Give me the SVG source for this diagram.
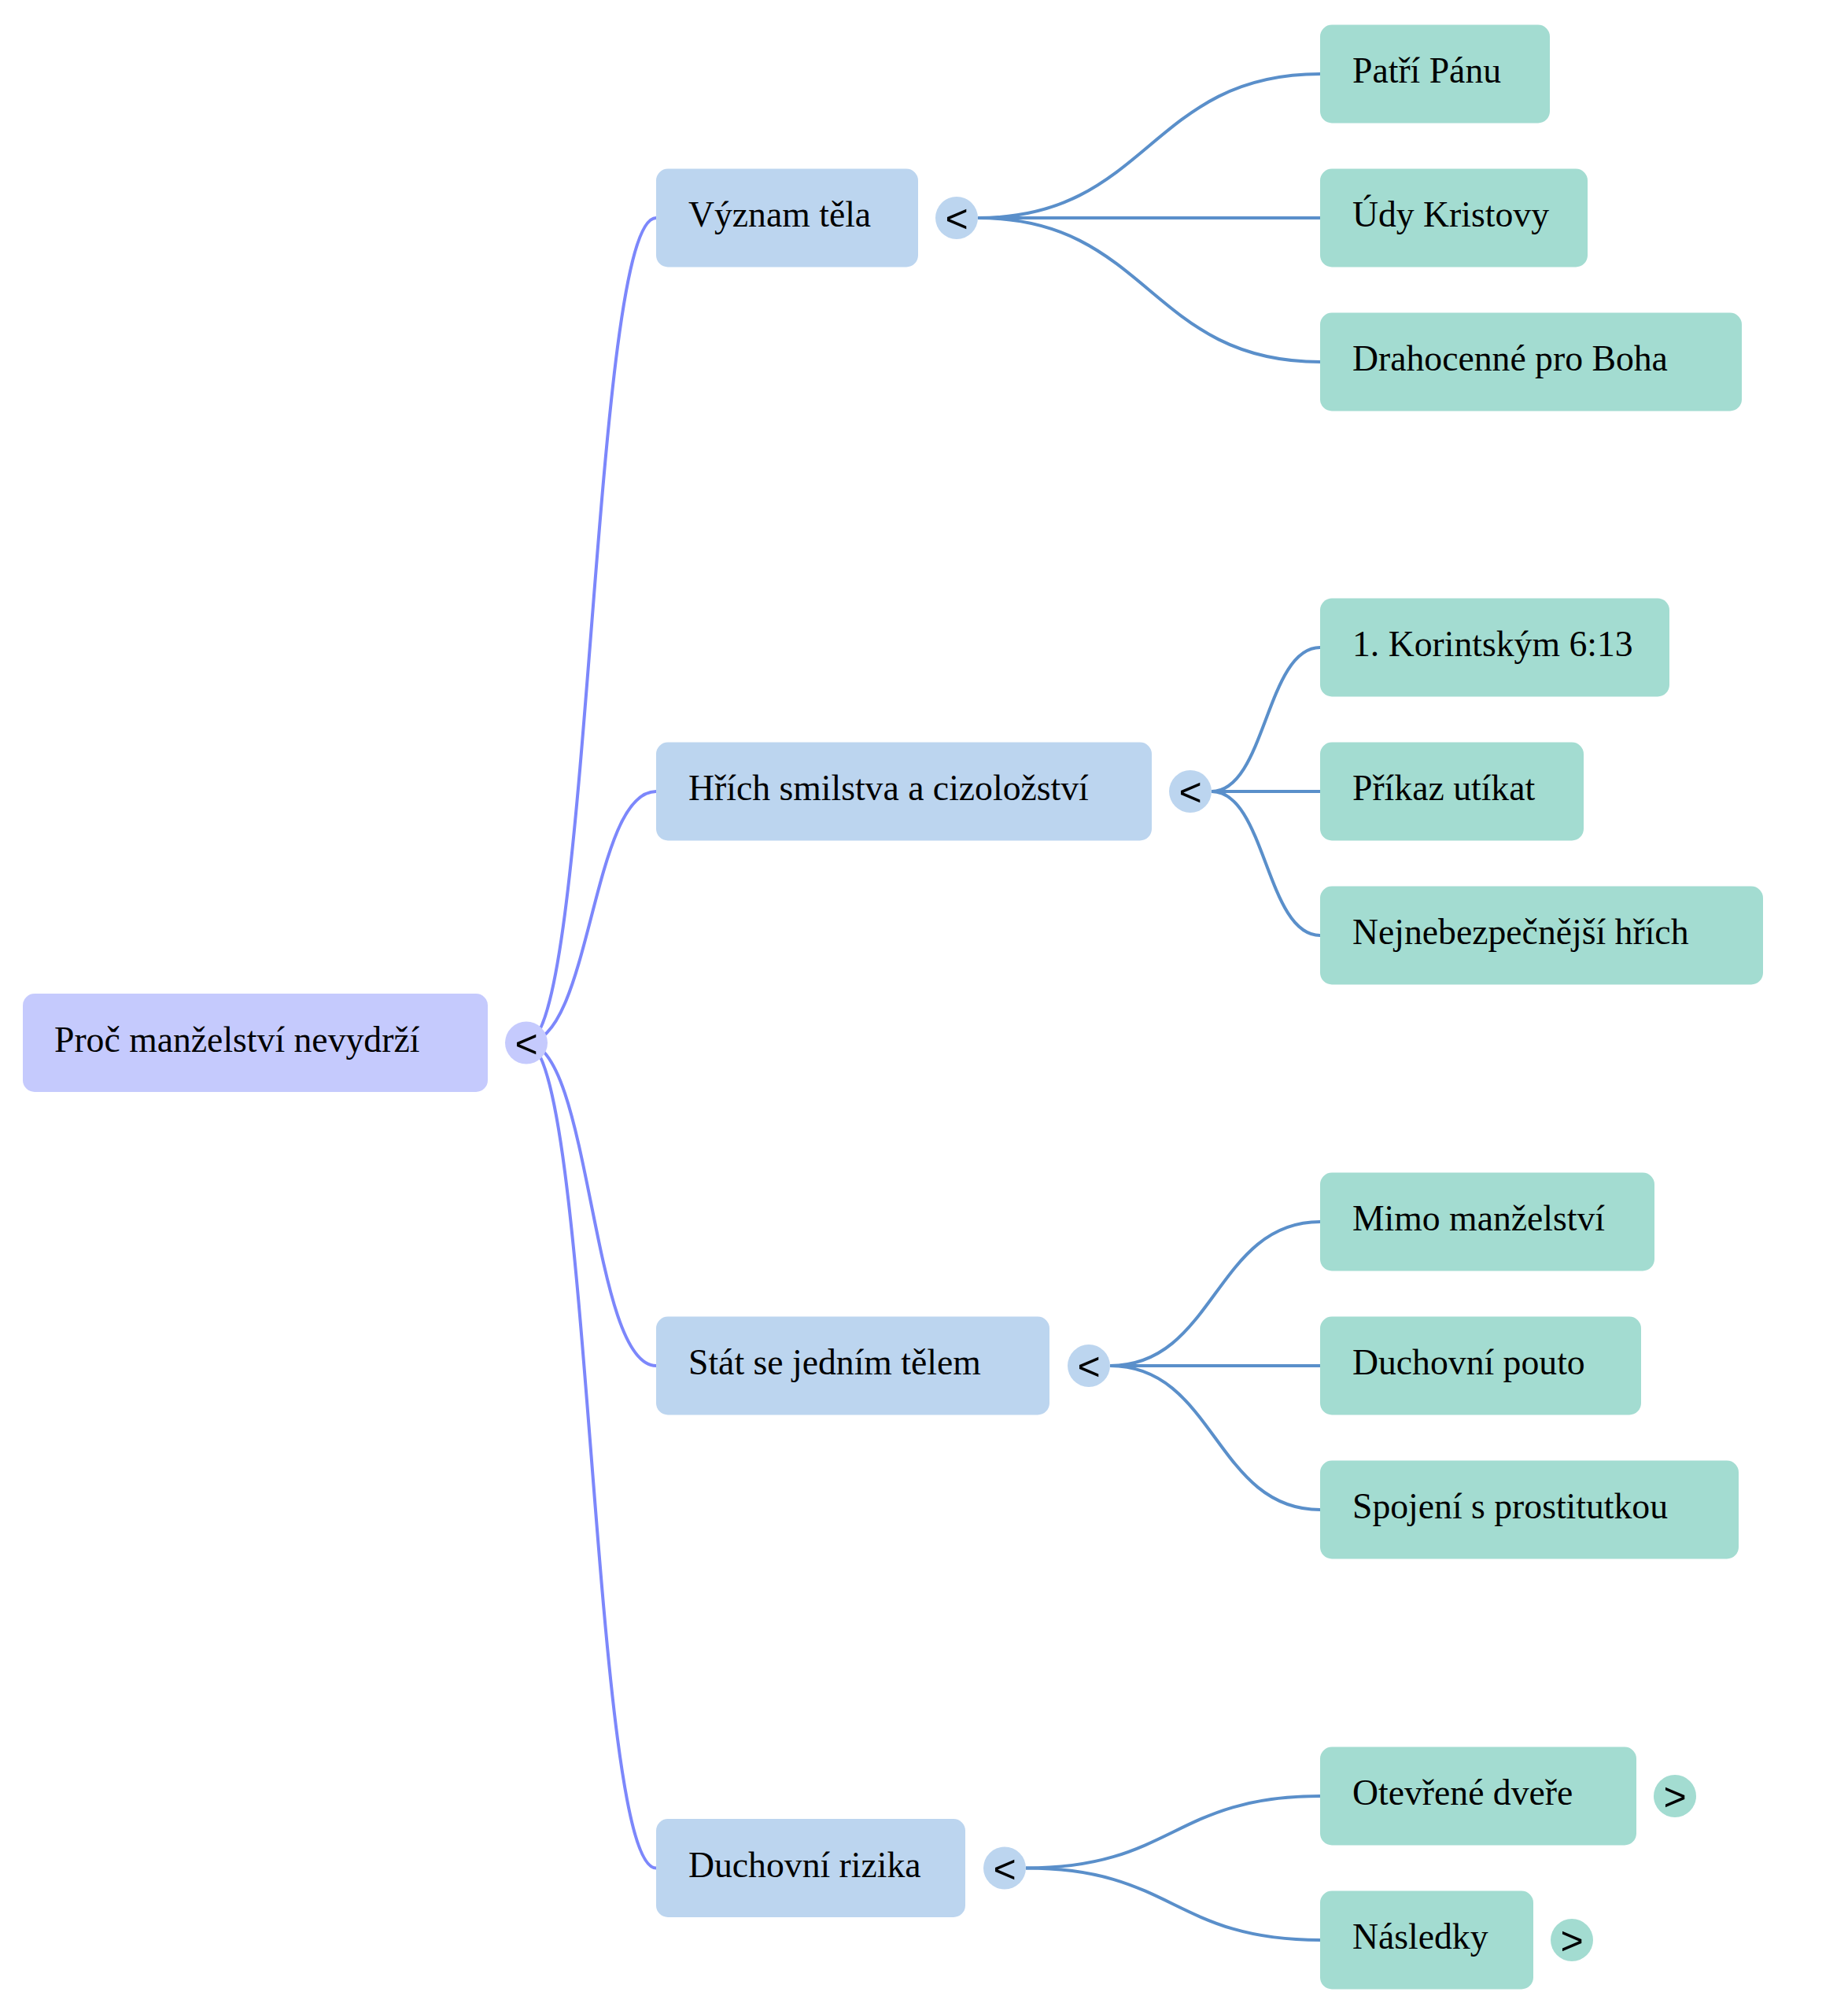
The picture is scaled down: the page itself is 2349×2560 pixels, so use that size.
<svg xmlns="http://www.w3.org/2000/svg" width="2349" height="2560" viewBox="0 0 2349 2560">
<style>
.root{fill:#c5cafd}
.l1{fill:#bcd5ef}
.l2{fill:#a3dcd1}
.lbl{font-family:"Liberation Serif","Times New Roman",serif;font-size:45.7px;fill:#000}
.tog{font-family:"Liberation Sans",Arial,sans-serif;font-size:50px;fill:#000;text-anchor:middle}
.lk0{fill:none;stroke:#7c87fb;stroke-width:4}
.lk1{fill:none;stroke:#5a8fca;stroke-width:4}
</style>
<rect width="2349" height="2560" fill="#ffffff"/>
<g id="connectors">
<path class="lk0" d="M669,1325.5 C751.5,1325.5 751.5,277 834,277"/>
<path class="lk0" d="M669,1325.5 C751.5,1325.5 751.5,1006 834,1006"/>
<path class="lk0" d="M669,1325.5 C751.5,1325.5 751.5,1736 834,1736"/>
<path class="lk0" d="M669,1325.5 C751.5,1325.5 751.5,2374.5 834,2374.5"/>
<path class="lk1" d="M1243,277 C1460.5,277 1460.5,94 1678,94"/>
<path class="lk1" d="M1243,277 L1678,277"/>
<path class="lk1" d="M1243,277 C1460.5,277 1460.5,460 1678,460"/>
<path class="lk1" d="M1540,1006 C1609,1006 1609,823 1678,823"/>
<path class="lk1" d="M1540,1006 L1678,1006"/>
<path class="lk1" d="M1540,1006 C1609,1006 1609,1189 1678,1189"/>
<path class="lk1" d="M1411,1736 C1544.5,1736 1544.5,1553 1678,1553"/>
<path class="lk1" d="M1411,1736 L1678,1736"/>
<path class="lk1" d="M1411,1736 C1544.5,1736 1544.5,1919 1678,1919"/>
<path class="lk1" d="M1304,2374.5 C1491,2374.5 1491,2283 1678,2283"/>
<path class="lk1" d="M1304,2374.5 C1491,2374.5 1491,2466 1678,2466"/>
</g>
<g id="n-root">
<rect class="root" x="29" y="1263" width="591" height="125" rx="15"/>
<text class="lbl" x="69" y="1336.5">Proč manželství nevydrží</text>
<circle class="root" cx="669" cy="1325.5" r="27"/>
<text class="tog" x="669" y="1343.5">&lt;</text>
</g>
<g id="n-vyznam">
<rect class="l1" x="834" y="214.5" width="333" height="125" rx="15"/>
<text class="lbl" x="875" y="288">Význam těla</text>
<circle class="l1" cx="1216" cy="277" r="27"/>
<text class="tog" x="1216" y="295">&lt;</text>
</g>
<g id="n-hrich">
<rect class="l1" x="834" y="943.5" width="630" height="125" rx="15"/>
<text class="lbl" x="875" y="1017">Hřích smilstva a cizoložství</text>
<circle class="l1" cx="1513" cy="1006" r="27"/>
<text class="tog" x="1513" y="1024">&lt;</text>
</g>
<g id="n-stat">
<rect class="l1" x="834" y="1673.5" width="500" height="125" rx="15"/>
<text class="lbl" x="875" y="1747">Stát se jedním tělem</text>
<circle class="l1" cx="1384" cy="1736" r="27"/>
<text class="tog" x="1384" y="1754">&lt;</text>
</g>
<g id="n-duchovni">
<rect class="l1" x="834" y="2312" width="393" height="125" rx="15"/>
<text class="lbl" x="875" y="2385.5">Duchovní rizika</text>
<circle class="l1" cx="1277" cy="2374.5" r="27"/>
<text class="tog" x="1277" y="2392.5">&lt;</text>
</g>
<g id="n-patri">
<rect class="l2" x="1678" y="31.5" width="292" height="125" rx="15"/>
<text class="lbl" x="1719" y="105">Patří Pánu</text>
</g>
<g id="n-udy">
<rect class="l2" x="1678" y="214.5" width="340" height="125" rx="15"/>
<text class="lbl" x="1719" y="288">Údy Kristovy</text>
</g>
<g id="n-drahocenne">
<rect class="l2" x="1678" y="397.5" width="536" height="125" rx="15"/>
<text class="lbl" x="1719" y="471">Drahocenné pro Boha</text>
</g>
<g id="n-korintskym">
<rect class="l2" x="1678" y="760.5" width="444" height="125" rx="15"/>
<text class="lbl" x="1719" y="834">1. Korintským 6:13</text>
</g>
<g id="n-prikaz">
<rect class="l2" x="1678" y="943.5" width="335" height="125" rx="15"/>
<text class="lbl" x="1719" y="1017">Příkaz utíkat</text>
</g>
<g id="n-nejnebezpecnejsi">
<rect class="l2" x="1678" y="1126.5" width="563" height="125" rx="15"/>
<text class="lbl" x="1719" y="1200">Nejnebezpečnější hřích</text>
</g>
<g id="n-mimo">
<rect class="l2" x="1678" y="1490.5" width="425" height="125" rx="15"/>
<text class="lbl" x="1719" y="1564">Mimo manželství</text>
</g>
<g id="n-pouto">
<rect class="l2" x="1678" y="1673.5" width="408" height="125" rx="15"/>
<text class="lbl" x="1719" y="1747">Duchovní pouto</text>
</g>
<g id="n-spojeni">
<rect class="l2" x="1678" y="1856.5" width="532" height="125" rx="15"/>
<text class="lbl" x="1719" y="1930">Spojení s prostitutkou</text>
</g>
<g id="n-otevrene">
<rect class="l2" x="1678" y="2220.5" width="402" height="125" rx="15"/>
<text class="lbl" x="1719" y="2294">Otevřené dveře</text>
<circle class="l2" cx="2129" cy="2283" r="27"/>
<text class="tog" x="2129" y="2301">&gt;</text>
</g>
<g id="n-nasledky">
<rect class="l2" x="1678" y="2403.5" width="271" height="125" rx="15"/>
<text class="lbl" x="1719" y="2477">Následky</text>
<circle class="l2" cx="1998" cy="2466" r="27"/>
<text class="tog" x="1998" y="2484">&gt;</text>
</g>
</svg>
